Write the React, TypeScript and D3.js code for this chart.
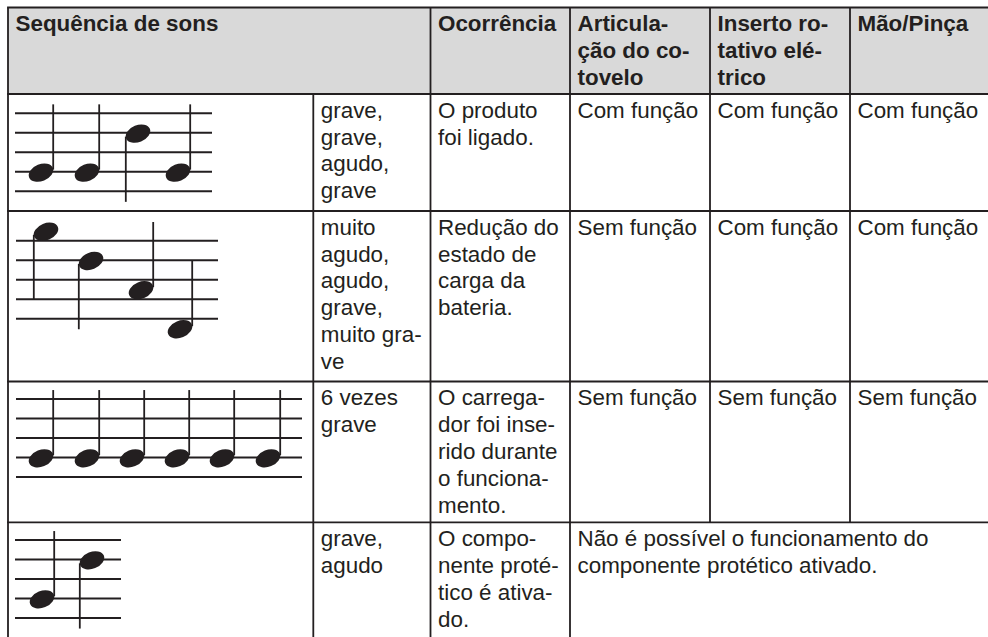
import React from "react";
import * as d3 from "d3";

// ---------- data ----------
const headerLabels: string[][] = [
  ["Sequência de sons"],
  ["Ocorrência"],
  ["Articula-", "ção do co-", "tovelo"],
  ["Inserto ro-", "tativo elé-", "trico"],
  ["Mão/Pinça"],
];
const soundNames: string[][] = [
  ["grave,", "grave,", "agudo,", "grave"],
  ["muito", "agudo,", "agudo,", "grave,", "muito gra-", "ve"],
  ["6 vezes", "grave"],
  ["grave,", "agudo"],
];
const occurrences: string[][] = [
  ["O produto", "foi ligado."],
  ["Redução do", "estado de", "carga da", "bateria."],
  ["O carrega-", "dor foi inse-", "rido durante", "o funciona-", "mento."],
  ["O compo-", "nente proté-", "tico é ativa-", "do."],
];
const elbowJoint = ["Com função", "Sem função", "Sem função"];
const rotaryInsert = ["Com função", "Com função", "Sem função"];
const handGripper = ["Com função", "Com função", "Sem função"];
const notAvailable = ["Não é possível o funcionamento do", "componente protético ativado."];

// pitch in staff steps: 0 = bottom line, 8 = top line
const melodyPitches: number[][] = [
  [2, 2, 6, 2],
  [9, 6, 3, -1],
  [2, 2, 2, 2, 2, 2],
  [2, 6],
];
// note onsets along each staff (staff units from its left end)
const melodyOnsets: number[][] = [
  [26, 72, 123, 163],
  [30, 75, 125, 164],
  [25, 71, 116, 161, 206, 252],
  [27, 77],
];
const staffLengths = [197, 202, 286, 106];

// ---------- layout ----------
const W = 988;
const H = 637;
const INK = "#231f20";
const FONT = "'Liberation Sans', Arial, Helvetica, sans-serif";
const FS = 22.4;
const LH = 26.8;
const colX = [8, 313.3, 430.5, 570, 710, 850, 1000];
const rowY = [7.5, 94, 211, 381.5, 522.3, 680];
const staffLeft = [15, 16, 16, 15];
const staffTopOffset = [19.3, 29.7, 17.5, 17.7];
const SPACE = 19.5;
const PADX = 7.5;
const BASE = 23.8;

function TextBlock({ x, y, lines, bold }: { x: number; y: number; lines: string[]; bold?: boolean }) {
  return (
    <text
      x={x}
      y={y}
      fontFamily={FONT}
      fontSize={FS}
      fontWeight={bold ? 700 : 400}
      fill={INK}
    >
      {lines.map((l, i) => (
        <tspan key={i} x={x} y={y + i * LH}>
          {l}
        </tspan>
      ))}
    </text>
  );
}

function Staff({ row }: { row: number }) {
  const top = rowY[row + 1] + staffTopOffset[row];
  const x0 = staffLeft[row];
  const len = staffLengths[row];
  const y = d3.scaleLinear().domain([0, 8]).range([top + 4 * SPACE, top]);
  const x = d3.scaleLinear().domain([0, len]).range([x0, x0 + len]);
  const lines = d3.range(0, 9, 2);
  const pitches = melodyPitches[row];
  const onsets = melodyOnsets[row];
  const stemLen = 3.5 * SPACE;
  return (
    <g>
      {lines.map((p) => (
        <line key={p} x1={x(0)} x2={x(len)} y1={y(p)} y2={y(p)} stroke={INK} strokeWidth={2} />
      ))}
      {pitches.map((p, i) => {
        const cx = x(onsets[i]);
        const cy = y(p) + 0.8;
        const up = p < 4;
        const sx = up ? cx + 12.2 : cx - 12.2;
        const sy1 = up ? cy - 3 : cy + 3;
        const sy2 = up ? cy - stemLen : cy + stemLen;
        return (
          <g key={i}>
            <line x1={sx} x2={sx} y1={sy1} y2={sy2} stroke={INK} strokeWidth={1.8} />
            <ellipse
              cx={cx}
              cy={cy}
              rx={12.8}
              ry={8.4}
              fill={INK}
              transform={`rotate(-22 ${cx} ${cy})`}
            />
          </g>
        );
      })}
    </g>
  );
}

export default function App() {
  const bw = 1.8;
  const bodyCols = [elbowJoint, rotaryInsert, handGripper];
  return (
    <svg
      width={W}
      height={H}
      viewBox={`0 0 ${W} ${H}`}
      style={{ position: "absolute", left: 0, top: 0, background: "#fff" }}
    >
      <rect x={colX[0]} y={rowY[0]} width={colX[6] - colX[0]} height={rowY[1] - rowY[0]} fill="#d9d9d9" />

      {/* header */}
      <TextBlock x={colX[0] + PADX} y={rowY[0] + BASE} lines={headerLabels[0]} bold />
      {headerLabels.slice(1).map((h, i) => (
        <TextBlock key={i} x={colX[i + 2] + PADX} y={rowY[0] + BASE} lines={h} bold />
      ))}

      {/* body rows */}
      {soundNames.map((s, r) => (
        <g key={r}>
          <Staff row={r} />
          <TextBlock x={colX[1] + PADX} y={rowY[r + 1] + BASE} lines={s} />
          <TextBlock x={colX[2] + PADX} y={rowY[r + 1] + BASE} lines={occurrences[r]} />
          {r < 3 &&
            bodyCols.map((c, k) => (
              <TextBlock key={k} x={colX[3 + k] + PADX} y={rowY[r + 1] + BASE} lines={[c[r]]} />
            ))}
          {r === 3 && <TextBlock x={colX[3] + PADX} y={rowY[r + 1] + BASE} lines={notAvailable} />}
        </g>
      ))}

      {/* grid */}
      {rowY.slice(0, 5).map((yy, i) => (
        <line key={"h" + i} x1={colX[0] - bw / 2} x2={W + 10} y1={yy} y2={yy} stroke={INK} strokeWidth={bw} />
      ))}
      <line x1={colX[0]} x2={colX[0]} y1={rowY[0]} y2={H + 10} stroke={INK} strokeWidth={bw} />
      <line x1={colX[1]} x2={colX[1]} y1={rowY[1]} y2={H + 10} stroke={INK} strokeWidth={bw} />
      <line x1={colX[2]} x2={colX[2]} y1={rowY[0]} y2={H + 10} stroke={INK} strokeWidth={bw} />
      <line x1={colX[3]} x2={colX[3]} y1={rowY[0]} y2={H + 10} stroke={INK} strokeWidth={bw} />
      <line x1={colX[4]} x2={colX[4]} y1={rowY[0]} y2={rowY[4]} stroke={INK} strokeWidth={bw} />
      <line x1={colX[5]} x2={colX[5]} y1={rowY[0]} y2={rowY[4]} stroke={INK} strokeWidth={bw} />
    </svg>
  );
}
